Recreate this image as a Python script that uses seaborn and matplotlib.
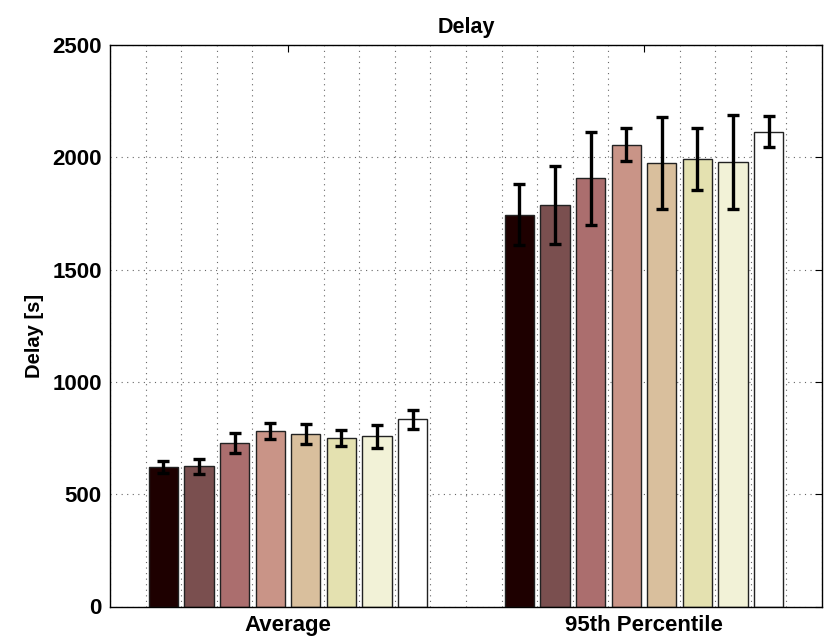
import numpy as np
import pandas as pd
import matplotlib
matplotlib.use("Agg")
import matplotlib.pyplot as plt
from matplotlib.ticker import MultipleLocator
import seaborn as sns

categories = ["Average", "95th Percentile"]
series = ["S1", "S2", "S3", "S4", "S5", "S6", "S7", "S8"]
avg_vals = [622, 624, 728, 781, 767, 749, 758, 833]
avg_err = [26, 34, 46, 37, 45, 36, 51, 42]
p95_vals = [1745, 1789, 1906, 2056, 1975, 1992, 1978, 2114]
p95_err = [137, 173, 208, 74, 206, 137, 209, 70]
colors = ["#1E0000", "#7A4F4F", "#AB6E6E", "#C99487", "#D9BF9D",
          "#E4E1B0", "#F2F2D7", "#FFFFFF"]
yticks = [0, 500, 1000, 1500, 2000, 2500]

rows = []
for s, v, e in zip(series, avg_vals, avg_err):
    rows.append({"cat": categories[0], "series": s, "value": v, "err": e})
for s, v, e in zip(series, p95_vals, p95_err):
    rows.append({"cat": categories[1], "series": s, "value": v, "err": e})
df = pd.DataFrame(rows)

sns.set_theme(style="white")
plt.rcParams["font.family"] = ["Liberation Sans", "DejaVu Sans"]
plt.rcParams["font.weight"] = "bold"
plt.rcParams["text.color"] = "black"
plt.rcParams["axes.labelcolor"] = "black"
plt.rcParams["axes.titlecolor"] = "black"

fig = plt.figure(figsize=(8.29, 6.41), dpi=100)
ax = fig.add_axes([110 / 829, 1 - 606.5 / 641, 712 / 829, 561.5 / 641])
ax.set_axisbelow(True)

sns.barplot(data=df, x="cat", y="value", hue="series", order=categories,
            hue_order=series, palette=colors, errorbar=None, width=0.8,
            gap=0.18, edgecolor="#222222", linewidth=1.0, legend=False,
            saturation=1, ax=ax)

# error bars at the centres of the drawn bars
for patch_group, s in zip(ax.containers, series):
    sub = df[df["series"] == s].set_index("cat").loc[categories]
    xs = [p.get_x() + p.get_width() / 2 for p in patch_group]
    ys = [p.get_height() for p in patch_group]
    ax.errorbar(xs, ys, yerr=sub["err"].values, fmt="none", ecolor="black",
                elinewidth=2.4, capsize=4.3, capthick=2.4, zorder=5)

ax.set_xlim(-0.5, 1.5)
ax.set_ylim(0, 2500)
ax.set_yticks(yticks)
ax.set_yticklabels([str(t) for t in yticks])
ax.xaxis.set_minor_locator(MultipleLocator(0.1))

ax.grid(False)
ax.yaxis.grid(True, which="major", linestyle=(0, (1, 4)), color="#666666",
              linewidth=0.8)
ax.xaxis.grid(True, which="minor", linestyle=(0, (1, 4)), color="#666666",
              linewidth=0.8)

for sp in ax.spines.values():
    sp.set_visible(True)
    sp.set_color("black")
    sp.set_linewidth(1.0)

ax.tick_params(axis="both", which="major", direction="in", length=5,
               width=0.8, top=True, right=True, labelsize=16, pad=6,
               colors="black", labelcolor="black")
ax.tick_params(axis="x", which="minor", direction="in", length=0,
               top=True, bottom=True)
for lab in ax.get_xticklabels() + ax.get_yticklabels():
    lab.set_fontweight("bold")

ax.set_xlabel("")
ax.set_ylabel("Delay [s]", fontsize=14.5, fontweight="bold", color="black")
ax.yaxis.set_label_coords(-66 / 712, (606.5 - 336) / 561.5)
ax.set_title("Delay", fontsize=15.5, fontweight="bold", pad=9, color="black")

fig.savefig("out.png", dpi=100)
